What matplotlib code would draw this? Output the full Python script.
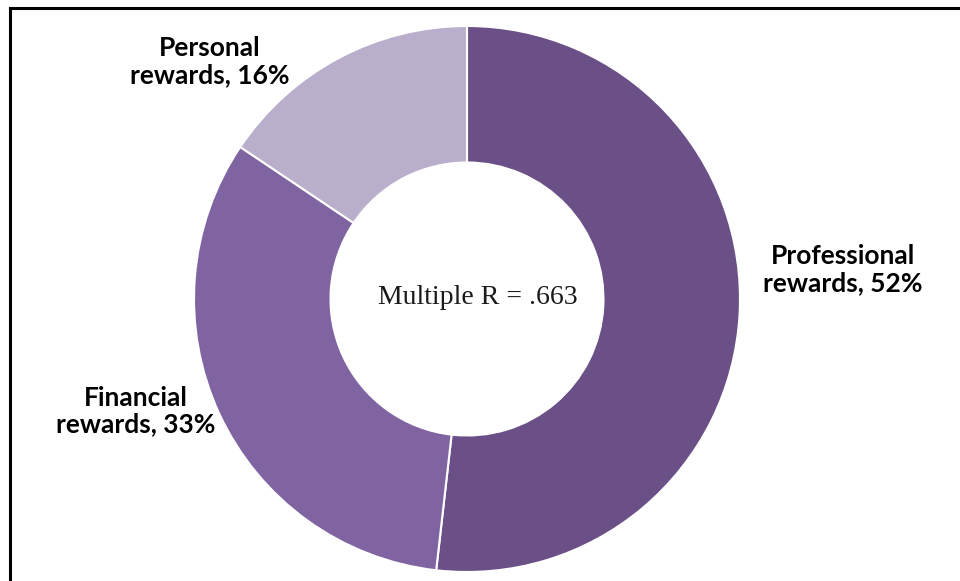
import matplotlib
matplotlib.use("Agg")
import matplotlib.pyplot as plt
from matplotlib.lines import Line2D

categories = ["Professional rewards", "Financial rewards", "Personal rewards"]
values = [51.8, 32.6, 15.6]
label_lines = ["Professional\nrewards, 52%", "Financial\nrewards, 33%", "Personal\nrewards, 16%"]
colors = ["#6A5087", "#8064A2", "#B9AECB"]
center_text = "Multiple R = .663"

W, H = 960, 581
fig = plt.figure(figsize=(W / 100, H / 100), dpi=100)
ax = fig.add_axes([0, 0, 1, 1])

cx, cy, R = 467, H - 299, 273
wedges, _ = ax.pie(values, colors=colors, startangle=90, counterclock=False,
                   center=(cx, cy), radius=R, frame=True,
                   wedgeprops=dict(width=R * 0.5, edgecolor="white", linewidth=1.5))
ax.set_xlim(0, W)
ax.set_ylim(0, H)
ax.set_aspect("equal")
ax.axis("off")

label_pos = [(843, H - 270), (136, H - 411), (210, H - 62)]
for txt, (x, y) in zip(label_lines, label_pos):
    ax.text(x, y, txt, ha="center", va="center", fontsize=19, fontweight="bold",
            family="Lato", linespacing=1.15, color="black")

ax.text(478, H - 298, center_text, ha="center", va="center", fontsize=20,
        family="Liberation Serif", color="#1a1a1a")

# partial border (top and left)
fig.add_artist(Line2D([9.5 / W, 1.0], [1 - 8 / H, 1 - 8 / H], transform=fig.transFigure,
                      color="black", linewidth=2.2))
fig.add_artist(Line2D([9.5 / W, 9.5 / W], [0, 1 - 8 / H], transform=fig.transFigure,
                      color="black", linewidth=2.2))

fig.savefig("out.png", dpi=100, facecolor="white")
